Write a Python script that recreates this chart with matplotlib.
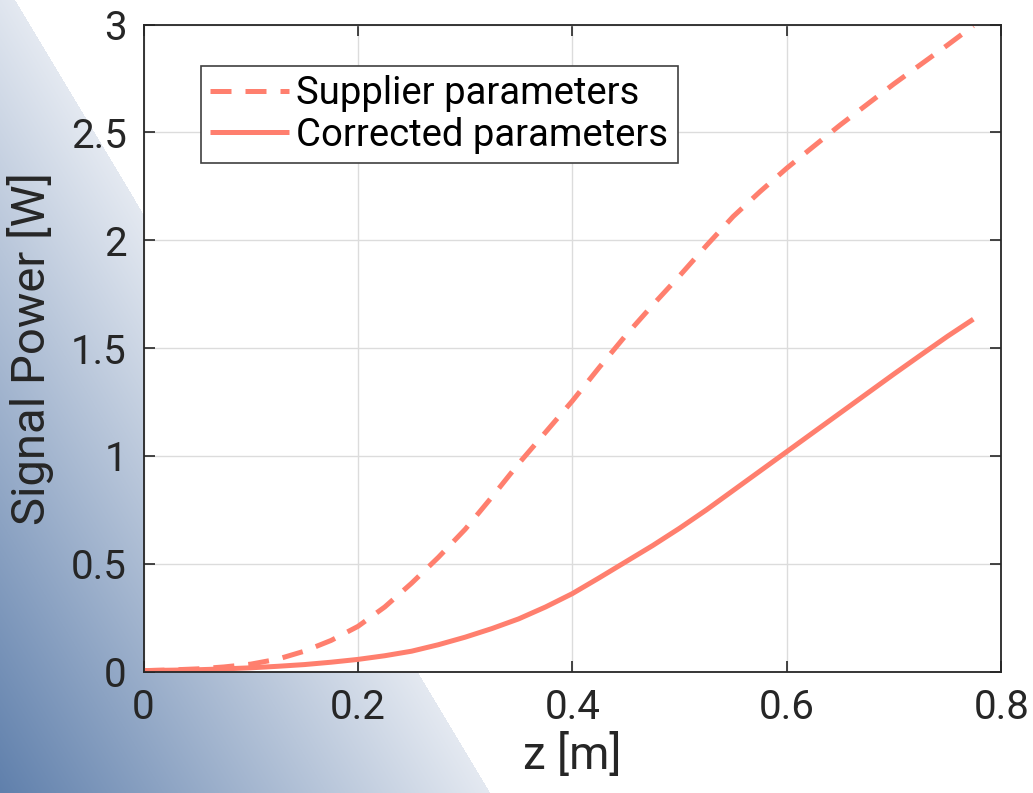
import numpy as np
import matplotlib
matplotlib.use("Agg")
import matplotlib.pyplot as plt

plt.rcParams['font.family'] = ['Roboto', 'DejaVu Sans']

# ---- data ----
z = [0.0, 0.025, 0.05, 0.075, 0.10, 0.125, 0.15, 0.175, 0.20, 0.225, 0.25, 0.275,
     0.30, 0.325, 0.35, 0.375, 0.40, 0.425, 0.45, 0.475, 0.50, 0.525, 0.55, 0.575,
     0.60, 0.625, 0.65, 0.675, 0.70, 0.725, 0.75, 0.774]
supplier = [0.005, 0.008, 0.013, 0.022, 0.035, 0.058, 0.095, 0.145, 0.21, 0.30, 0.41, 0.53,
            0.66, 0.81, 0.965, 1.11, 1.255, 1.41, 1.56, 1.70, 1.835, 1.975, 2.11, 2.225,
            2.334, 2.435, 2.535, 2.63, 2.725, 2.815, 2.905, 2.994]
corrected = [0.005, 0.007, 0.009, 0.013, 0.018, 0.025, 0.033, 0.044, 0.057, 0.074, 0.095, 0.125,
             0.16, 0.20, 0.245, 0.30, 0.362, 0.435, 0.51, 0.585, 0.665, 0.75, 0.84, 0.93,
             1.02, 1.11, 1.2, 1.29, 1.38, 1.468, 1.555, 1.634]
labels = ['Supplier parameters', 'Corrected parameters']
xticks = [0, 0.2, 0.4, 0.6, 0.8]
yticks = [0, 0.5, 1, 1.5, 2, 2.5, 3]
ytick_labels = ['0', '0.5', '1', '1.5', '2', '2.5', '3']
xtick_labels = ['0', '0.2', '0.4', '0.6', '0.8']

W, H = 1033, 793
fig = plt.figure(figsize=(W / 100, H / 100), dpi=100)
fig.patch.set_facecolor('white')

# ---- background gradient (decorative) ----
bg = fig.add_axes([0, 0, 1, 1], zorder=-10)
bg.set_axis_off()
yy, xx = np.mgrid[0:H, 0:W].astype(float)
slope = 0.599
d = (xx - 15 - slope * yy) / np.sqrt(1 + slope ** 2)
t = np.clip(-d / 420.0, 0, 1)
light = np.array([228, 233, 241]) / 255.0
dark = np.array([96, 128, 172]) / 255.0
rgba = np.ones((H, W, 4))
for c in range(3):
    rgba[..., c] = light[c] + (dark[c] - light[c]) * t
rgba[..., 3] = np.where(d < 0, 1.0, 0.0)
bg.imshow(rgba, extent=[0, W, H, 0], aspect='auto', interpolation='bilinear')
bg.set_xlim(0, W)
bg.set_ylim(H, 0)

# ---- main axes ----
ax = fig.add_axes([143.5 / W, 1 - 671.7 / H, (1001.2 - 143.5) / W, (671.7 - 24.5) / H])
ax.set_facecolor('white')
col = '#FF7F6E'
ax.plot(z, supplier, color=col, lw=3.6, dashes=(4.2, 2.8), label=labels[0],
        solid_capstyle='butt', dash_capstyle='butt')
ax.plot(z, corrected, color=col, lw=3.6, label=labels[1], solid_capstyle='butt')

ax.set_xlim(0, 0.8)
ax.set_ylim(0, 3)
ax.set_xticks(xticks)
ax.set_xticklabels(xtick_labels)
ax.set_yticks(yticks)
ax.set_yticklabels(ytick_labels)
ax.grid(True, color='#dcdcdc', lw=1.0)
ax.set_axisbelow(True)
for s in ax.spines.values():
    s.set_color('#262626')
    s.set_linewidth(1.3)
ax.tick_params(direction='in', length=8, width=1.2, colors='#262626',
               top=True, right=True, labelsize=29, pad=12)
ax.set_xlabel('z [m]', fontsize=33, color='#262626', labelpad=4)
ax.set_ylabel('Signal Power [W]', fontsize=34, color='#262626', labelpad=12)

leg = ax.legend(loc='upper left', bbox_to_anchor=((200.7 - 143.5) / 857.7, (671.7 - 65.7) / 647.2),
                borderaxespad=0, fontsize=27.5, handlelength=2.05, handletextpad=0.2,
                labelspacing=0.12, borderpad=0.25, fancybox=False, framealpha=1,
                edgecolor='#404040')
leg.get_frame().set_linewidth(1.2)

fig.savefig('out.png', dpi=100, facecolor='white')
